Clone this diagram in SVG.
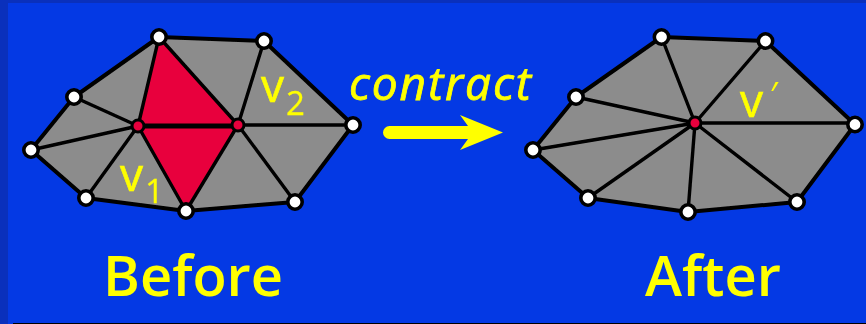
<svg xmlns="http://www.w3.org/2000/svg" width="866" height="324" viewBox="0 0 866 324">
<style>
.bg{fill:#0439e4}
.band{fill:#0a30bc}
.mesh{fill:#8c8c8c;stroke:none}
.red{fill:#e8063c;stroke:none}
.e{stroke:#000;stroke-width:3.4;fill:none;stroke-linejoin:round;stroke-linecap:round}
.o{stroke:#000;stroke-width:4;fill:none;stroke-linejoin:round}
.v{fill:#fff;stroke:#000;stroke-width:3.6}
.c{fill:#e8063c;stroke:#000;stroke-width:3}
text{fill:#ffff00;font-family:"Open Sans","Liberation Sans",sans-serif}
.big{font-size:56px;font-weight:600}
.sym{font-size:46px;stroke:#ffff00;stroke-width:.6}
.sub{font-size:33px;stroke:#ffff00;stroke-width:.3}
</style>
<defs><filter id="soft" x="-5%" y="-5%" width="110%" height="110%"><feGaussianBlur stdDeviation="0.55"/></filter></defs>
<rect class="bg" width="866" height="324"/>
<rect class="band" width="866" height="3"/>
<rect class="band" width="8" height="324"/>
<rect x="13" y="323" width="853" height="1" fill="#000"/>
<g filter="url(#soft)">
<g id="connectors">
<polygon class="mesh" points="159,37 264,41 353,125 295,202 186,211 86,198 31,150 74,97"/>
<polygon class="red" points="159,37 238,125 186,211 138,126"/>
<path class="o" d="M159,37 264,41 353,125 295,202 186,211 86,198 31,150 74,97Z"/>
<path class="e" d="M159,37 138,126M159,37 238,125M264,41 238,125M353,125 238,125M295,202 238,125M186,211 238,125M186,211 138,126M86,198 138,126M31,150 138,126M74,97 138,126"/>
<path d="M138,126H238" stroke="#000" stroke-width="5"/>
<polygon class="mesh" points="661.5,37 765.5,41 855,124.5 797,202 688,212 588,198 533,150 576,97"/>
<path class="o" d="M661.5,37 765.5,41 855,124.5 797,202 688,212 588,198 533,150 576,97Z"/>
<path class="e" d="M695,123 661.5,37M695,123 765.5,41M695,123H855M695,123 797,202M695,123 688,212M695,123 588,198M695,123 533,150M695,123 576,97"/>
</g>
<g id="before-mesh-nodes">
<circle class="v" cx="159" cy="37" r="7.200"/><circle class="v" cx="264" cy="41" r="7.200"/><circle class="v" cx="353" cy="125" r="7.200"/><circle class="v" cx="295" cy="202" r="7.200"/><circle class="v" cx="186" cy="211" r="7.200"/><circle class="v" cx="86" cy="198" r="7.200"/><circle class="v" cx="31" cy="150" r="7.200"/><circle class="v" cx="74" cy="97" r="7.200"/>
<circle class="c" cx="138" cy="126" r="6"/><circle class="c" cx="238" cy="125" r="6"/>
</g>
<g id="after-mesh-nodes">
<circle class="v" cx="661.5" cy="37" r="7.200"/><circle class="v" cx="765.5" cy="41" r="7.200"/><circle class="v" cx="855" cy="124.5" r="7.200"/><circle class="v" cx="797" cy="202" r="7.200"/><circle class="v" cx="688" cy="212" r="7.200"/><circle class="v" cx="588" cy="198" r="7.200"/><circle class="v" cx="533" cy="150" r="7.200"/><circle class="v" cx="576" cy="97" r="7.200"/>
<circle class="c" cx="695" cy="123" r="6"/>
</g>
<g id="arrow">
<path d="M389.500,126H468L460,115 503,132.500 460,150 468,139H389.500A6.500,6.500 0 0 1 389.500,126Z" fill="#ffff00"/>
</g>
<g id="labels">
<text class="sym" x="120" y="191">v</text><text class="sub" x="145" y="203">1</text>
<text class="sym" x="261" y="102">v</text><text class="sub" x="286" y="115">2</text>
<text class="sym" x="740" y="117">v</text><text x="769" y="107" font-size="34" font-style="italic">′</text>
<text x="349" y="100" font-size="46" font-style="italic" letter-spacing="1.9" stroke="#ffff00" stroke-width=".8">contract</text>
<text class="big" x="103" y="296">Before</text>
<text class="big" x="645" y="296">After</text>
</g>
</g>
</svg>
